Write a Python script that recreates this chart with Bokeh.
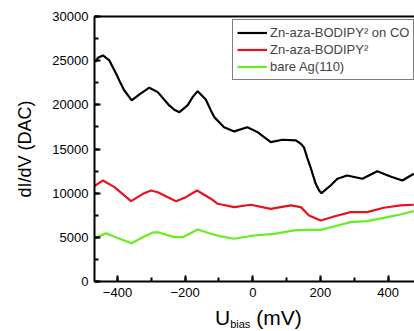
from bokeh.plotting import figure
from bokeh.models import (Range1d, SingleIntervalTicker, FixedTicker, Legend, LegendItem,
                          LinearAxis, Div)
from bokeh.layouts import column
from bokeh.embed import file_html
from bokeh.resources import INLINE

# ---- data ----
co_mv = [-466, -458, -443, -424, -404, -391, -380, -358, -335, -306, -281, -247, -232,
         -217, -193, -178, -163, -139, -124, -114, -85, -55, -16, 14, 53, 88, 127, 142,
         151, 161, 171, 186, 196, 203, 230, 250, 279, 324, 368, 407, 442, 476]
co_val = [24830, 25330, 25590, 25030, 23520, 22460, 21630, 20500, 21180, 21940, 21440,
          19930, 19440, 19170, 19930, 20870, 21550, 20600, 19370, 18610, 17470, 16990,
          17470, 16910, 15780, 16050, 15970, 15590, 15210, 14000, 12900, 11060, 10300,
          10000, 10870, 11630, 12000, 11630, 12490, 11890, 11440, 12200]

mol_mv = [-468, -443, -409, -360, -321, -301, -281, -227, -198, -165, -124, -104, -55,
          -6, 53, 112, 142, 166, 201, 240, 289, 338, 387, 437, 476]
mol_val = [10800, 11440, 10680, 9100, 10000, 10300, 10110, 9090, 9550, 10300, 9370,
           8800, 8420, 8690, 8230, 8610, 8420, 7470, 6910, 7360, 7850, 7850, 8350,
           8610, 8690]

ag_mv = [-468, -434, -394, -358, -321, -295, -281, -232, -207, -163, -124, -94, -55,
         4, 63, 122, 161, 201, 240, 289, 338, 387, 437, 476]
ag_val = [4910, 5470, 4840, 4340, 5100, 5550, 5580, 5020, 5020, 5890, 5400, 5100, 4840,
          5210, 5400, 5780, 5850, 5850, 6230, 6720, 6830, 7210, 7590, 7960]

series_labels = ["Zn-aza-BODIPY\u00b2 on CO", "Zn-aza-BODIPY\u00b2", "bare Ag(110)"]
series_colors = ["#000000", "#e8121e", "#66ee22"]

FONT = "Liberation Sans"

p = figure(width=414, height=304, output_backend="svg", toolbar_location=None,
           x_range=Range1d(-468, 478), y_range=Range1d(0, 30000),
           min_border_left=94, min_border_right=0, min_border_top=16, min_border_bottom=23)
p.grid.visible = False
p.background_fill_color = "white"
p.border_fill_color = "white"
p.outline_line_color = None

r1 = p.line(co_mv, co_val, line_color=series_colors[0], line_width=2.2)
r2 = p.line(mol_mv, mol_val, line_color=series_colors[1], line_width=2.2)
r3 = p.line(ag_mv, ag_val, line_color=series_colors[2], line_width=2.2)

for ax in (p.xaxis[0], p.yaxis[0]):
    ax.axis_line_width = 2
    ax.major_tick_line_width = 2
    ax.minor_tick_line_width = 2
    ax.major_tick_in = 6
    ax.major_tick_out = 0
    ax.minor_tick_in = 4
    ax.minor_tick_out = 0
    ax.major_label_text_font = FONT
    ax.major_label_text_font_size = "13px"
    ax.major_label_text_color = "black"
    ax.major_label_standoff = 6

p.xaxis.ticker = SingleIntervalTicker(interval=200, num_minor_ticks=2)
p.yaxis.ticker = SingleIntervalTicker(interval=5000, num_minor_ticks=2)

# top border as a bare axis line
top = LinearAxis(ticker=FixedTicker(ticks=[]), axis_line_width=2,
                 major_tick_in=0, major_tick_out=0, minor_tick_in=0, minor_tick_out=0,
                 major_label_text_font_size="0px", axis_label=None)
p.add_layout(top, "above")

p.yaxis.axis_label = "dI/dV (DAC)"
p.yaxis.axis_label_text_font = FONT
p.yaxis.axis_label_text_font_size = "18px"
p.yaxis.axis_label_text_font_style = "normal"
p.yaxis.axis_label_text_color = "black"
p.yaxis.axis_label_standoff = 14

legend = Legend(items=[LegendItem(label=series_labels[0], renderers=[r1]),
                       LegendItem(label=series_labels[1], renderers=[r2]),
                       LegendItem(label=series_labels[2], renderers=[r3])],
                location=(138, 201), orientation="vertical",
                label_text_font=FONT, label_text_font_size="13px",
                glyph_width=30, glyph_height=17, label_height=17, spacing=0,
                padding=4, margin=0, label_standoff=3,
                border_line_color="black", border_line_width=1,
                background_fill_alpha=1)
p.add_layout(legend)

xlabel = Div(
    text=('<div style="font-family:\'Liberation Sans\';font-size:21px;color:black;'
          'line-height:21px;white-space:nowrap;padding-left:215px;padding-top:3px">'
          'U<sub style="font-size:11px;vertical-align:-3px;line-height:0">bias</sub>'
          '&nbsp;(mV)</div>'),
    width=414, height=27, margin=0)

layout = column(p, xlabel, spacing=0)

open("out.html", "w").write(file_html(layout, INLINE))
